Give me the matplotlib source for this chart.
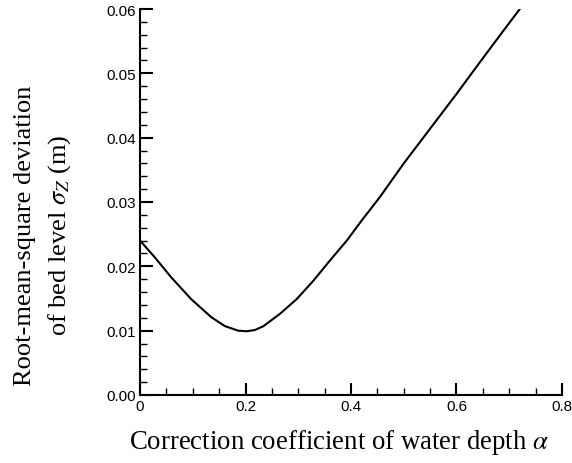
import matplotlib
matplotlib.use("Agg")
import matplotlib.pyplot as plt
from matplotlib.ticker import MultipleLocator, FormatStrFormatter

alpha = [0.000, 0.028, 0.059, 0.097, 0.135, 0.161, 0.186, 0.202, 0.218, 0.234,
         0.265, 0.297, 0.329, 0.360, 0.392, 0.420, 0.455, 0.500, 0.550, 0.600,
         0.645, 0.685, 0.720]
sigma = [0.0240, 0.0214, 0.0183, 0.0149, 0.0121, 0.0107, 0.0100, 0.0099, 0.0101, 0.0107,
         0.0126, 0.0149, 0.0178, 0.0209, 0.0240, 0.0271, 0.0308, 0.0360, 0.0414, 0.0468,
         0.0518, 0.0562, 0.0600]

x_ticks = [0, 0.2, 0.4, 0.6, 0.8]
x_ticklabels = ["0", "0.2", "0.4", "0.6", "0.8"]
y_ticks = [0.00, 0.01, 0.02, 0.03, 0.04, 0.05, 0.06]

plt.rcParams['mathtext.fontset'] = 'stix'
fig = plt.figure(figsize=(5.72, 4.64), dpi=100)
ax = fig.add_axes([0.2448, 0.1466, 0.9825 - 0.2448, 0.9784 - 0.1466])

ax.plot(alpha, sigma, color='black', lw=1.5, solid_joinstyle='round')

ax.set_xlim(0, 0.8)
ax.set_ylim(0, 0.06)
ax.set_xticks(x_ticks)
ax.set_xticklabels(x_ticklabels)
ax.set_yticks(y_ticks)
ax.yaxis.set_major_formatter(FormatStrFormatter('%.2f'))
ax.xaxis.set_minor_locator(MultipleLocator(0.05))
ax.yaxis.set_minor_locator(MultipleLocator(0.002))

for s in ['top', 'right']:
    ax.spines[s].set_visible(False)
for s in ['left', 'bottom']:
    ax.spines[s].set_linewidth(1.5)

ax.tick_params(which='major', direction='in', length=9, width=1.5, pad=3,
               labelsize=11)
ax.tick_params(which='minor', direction='in', length=5, width=1.0)
for lab in ax.get_xticklabels() + ax.get_yticklabels():
    lab.set_fontfamily('Liberation Sans')

ax.set_xlabel(r"Correction coefficient of water depth $\alpha$",
              fontfamily='Liberation Serif', fontsize=19.3)
ax.xaxis.set_label_coords(0.4716, -0.084)
ax.set_ylabel("Root-mean-square deviation\n" + r"of bed level $\sigma_Z$ (m)",
              fontfamily='Liberation Serif', fontsize=19, linespacing=1.5)
ax.yaxis.set_label_coords(-0.159, 0.415)

fig.savefig("out.png", dpi=100)
